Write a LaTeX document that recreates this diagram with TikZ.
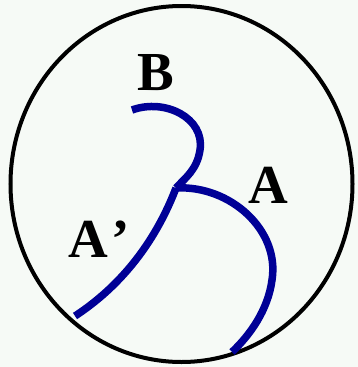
\documentclass[tikz,border=0pt]{standalone}
\usepackage{fontspec}
\setmainfont{Liberation Serif}
\usetikzlibrary{positioning,calc}
\definecolor{paper}{RGB}{246,250,246}
\definecolor{strand}{RGB}{0,0,150}

\begin{document}
\begin{tikzpicture}[
    x=1pt, y=-1pt,
    rim/.style={draw=black, line width=4pt},
    branch/.style={draw=strand, line width=7.5pt},
    lbl/.style={
        inner sep=0pt,
        anchor=base west,
        font=\fontsize{55}{55}\selectfont\bfseries
    }
]
\useasboundingbox[fill=paper] (0,0) rectangle (358,367);
\draw[rim] (181.5,184) ellipse [x radius=171, y radius=178];

\coordinate (junc) at (176,188);
\coordinate (tipB) at (132,110);
\coordinate (turnB) at (200,150);
\coordinate (endAp) at (75,316);
\coordinate (bendA) at (272,280);
\coordinate (endA) at (232,352);

% the three strands meeting at the junction
\draw[branch] (tipB) .. controls (165,98) and (205,118) .. (turnB)
    .. controls (197,170) and (185,178) .. (junc);
\draw[branch] (junc) .. controls (160,230) and (130,280) .. (endAp);
\draw[branch] (junc) .. controls (230,185) and (280,230) .. (bendA)
    .. controls (268,310) and (250,335) .. (endA);

\node[lbl] (labB) at (137,90) {B};
\node[lbl] (labA) at (248,203) {A};
\node[lbl] (labAp) at (68,257) {A\kern4pt’};
\end{tikzpicture}
\end{document}
